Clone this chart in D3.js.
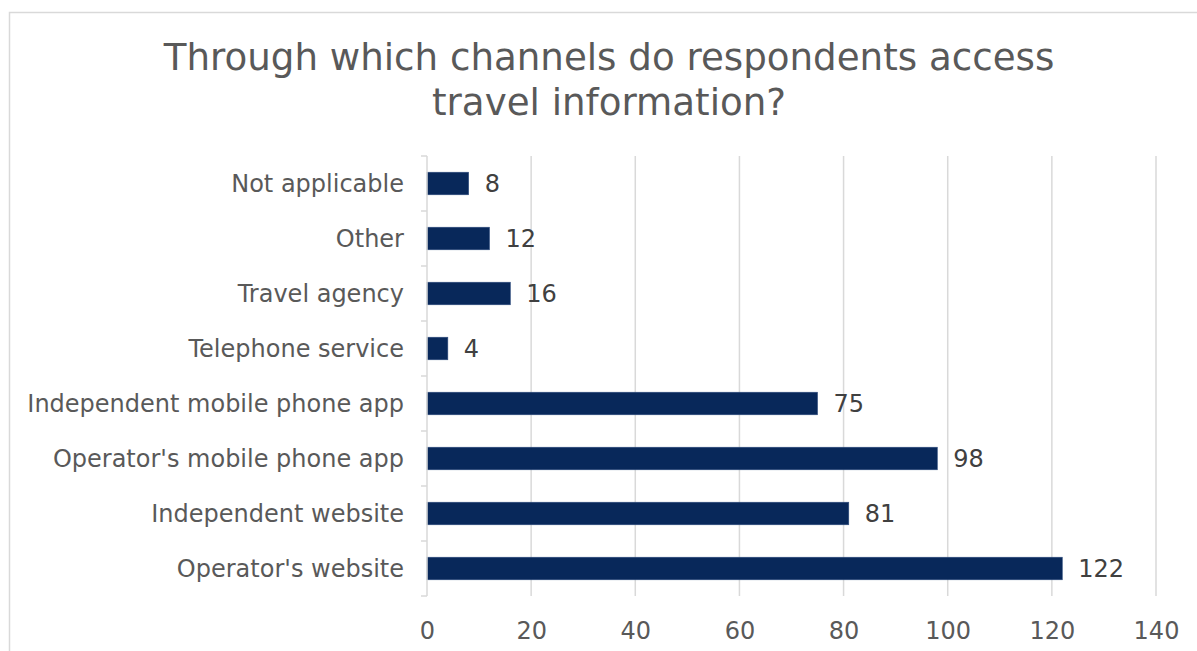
<!DOCTYPE html>
<html>
<head>
<meta charset="utf-8">
<script src="https://cdn.jsdelivr.net/npm/d3@7"></script>
<style>
  body { margin: 0; background: #fff; }
  text { font-family: "DejaVu Sans", Verdana, sans-serif; }
</style>
</head>
<body>
<script>
// ------------------------------------------------ Data ------------------------------------------------ //
var categories = ["Not applicable", "Other", "Travel agency", "Telephone service",
                  "Independent mobile phone app", "Operator's mobile phone app",
                  "Independent website", "Operator's website"];
var values = [8, 12, 16, 4, 75, 98, 81, 122];
var x_ticks = [0, 20, 40, 60, 80, 100, 120, 140];
var title_lines = ["Through which channels do respondents access", "travel information?"];

// ---------------------------------------------- Init SVG ---------------------------------------------- //
var width = 1197, height = 651;
var plot = {left: 427, right: 1156, top: 156, bottom: 596};

var svg = d3.select("body")
    .append("svg")
    .attr("width", width)
    .attr("height", height);

// chart border
svg.append("rect")
    .attr("x", 9.5)
    .attr("y", 12.5)
    .attr("width", 1200)
    .attr("height", 660)
    .attr("fill", "white")
    .attr("stroke", "#d9d9d9")
    .attr("stroke-width", 1.5);

// ----------------------------------------------- Scales ----------------------------------------------- //
var x = d3.scaleLinear()
    .domain([0, 140])
    .range([plot.left, plot.right]);

var y = d3.scaleBand()
    .domain(categories)
    .range([plot.top, plot.bottom])
    .paddingInner(0.59)
    .paddingOuter(0.295);

var step = y.step();

// ----------------------------------------------- Title ------------------------------------------------ //
svg.append("text")
    .attr("x", 609)
    .attr("y", 70)
    .attr("text-anchor", "middle")
    .attr("font-size", "37.2px")
    .attr("fill", "#595959")
    .selectAll("tspan")
    .data(title_lines)
    .enter().append("tspan")
        .attr("x", 609)
        .attr("dy", function(d, i) { return i == 0 ? 0 : 45; })
        .text(function(d) { return d; });

// ---------------------------------------------- Gridlines --------------------------------------------- //
svg.append("g").attr("class", "grid")
    .selectAll("line")
    .data(x_ticks.slice(1))
    .enter().append("line")
        .attr("x1", function(d) { return x(d); })
        .attr("x2", function(d) { return x(d); })
        .attr("y1", plot.top)
        .attr("y2", plot.bottom)
        .attr("stroke", "#d9d9d9")
        .attr("stroke-width", 1.5);

// ------------------------------------------------ Bars ------------------------------------------------ //
svg.append("g").attr("class", "bars")
    .selectAll("rect")
    .data(values)
    .enter().append("rect")
        .attr("x", x(0))
        .attr("y", function(d, i) { return y(categories[i]); })
        .attr("width", function(d) { return x(d) - x(0); })
        .attr("height", y.bandwidth())
        .attr("fill", "#08285a")
        .attr("stroke", "#2f4d7e")
        .attr("stroke-width", 0.6);

// value labels
svg.append("g").attr("class", "labels")
    .selectAll("text")
    .data(values)
    .enter().append("text")
        .attr("x", function(d) { return x(d) + 16; })
        .attr("y", function(d, i) { return y(categories[i]) + y.bandwidth() / 2; })
        .attr("dy", "0.35em")
        .attr("font-size", "24px")
        .attr("fill", "#404040")
        .text(function(d) { return d; });

// ------------------------------------------------ Axes ------------------------------------------------ //
// category axis (left) with ticks at band boundaries
var y_axis = svg.append("g").attr("class", "y-axis");
y_axis.append("line")
    .attr("x1", plot.left).attr("x2", plot.left)
    .attr("y1", plot.top).attr("y2", plot.bottom)
    .attr("stroke", "#d9d9d9")
    .attr("stroke-width", 1.5);
y_axis.selectAll("line.tick")
    .data(d3.range(categories.length + 1))
    .enter().append("line")
        .attr("class", "tick")
        .attr("x1", plot.left - 6).attr("x2", plot.left)
        .attr("y1", function(i) { return plot.top + i * step; })
        .attr("y2", function(i) { return plot.top + i * step; })
        .attr("stroke", "#d9d9d9")
        .attr("stroke-width", 1.5);
y_axis.selectAll("text")
    .data(categories)
    .enter().append("text")
        .attr("x", 404)
        .attr("y", function(d) { return y(d) + y.bandwidth() / 2; })
        .attr("dy", "0.35em")
        .attr("text-anchor", "end")
        .attr("font-size", "24px")
        .attr("fill", "#595959")
        .text(function(d) { return d; });

// value axis (bottom), labels only
var x_axis = svg.append("g")
    .attr("class", "x-axis")
    .attr("transform", "translate(0," + 613 + ")")
    .call(d3.axisBottom(x).tickValues(x_ticks).tickSize(0).tickPadding(0));
x_axis.select(".domain").remove();
x_axis.selectAll("text")
    .attr("dy", 0)
    .attr("y", 26)
    .attr("font-size", "24px")
    .attr("font-family", "DejaVu Sans, Verdana, sans-serif")
    .attr("fill", "#595959");
</script>
</body>
</html>
